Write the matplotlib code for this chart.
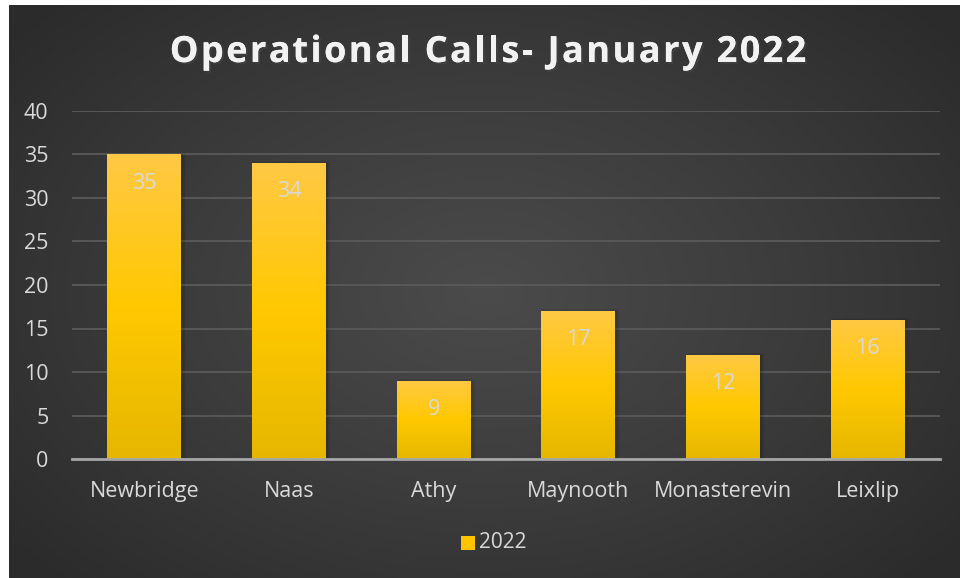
import numpy as np
import matplotlib
matplotlib.use("Agg")
import matplotlib.pyplot as plt
import matplotlib.patheffects as pe
from matplotlib.colors import LinearSegmentedColormap

towns = ["Newbridge", "Naas", "Athy", "Maynooth", "Monasterevin", "Leixlip"]
calls_2022 = [35, 34, 9, 17, 12, 16]
yticks = [0, 5, 10, 15, 20, 25, 30, 35, 40]
title = "Operational Calls- January 2022"
series_name = "2022"

plt.rcParams['font.family'] = ['Open Sans', 'DejaVu Sans']

fig = plt.figure(figsize=(9.6, 5.78), dpi=100)
fig.patch.set_facecolor("white")

# dark radial background (white strip on left/top like the screenshot)
bg = fig.add_axes([9 / 960, 0, 951 / 960, 573 / 578])
bg.set_axis_off()
yy, xx = np.mgrid[0:1:300j, 0:1:500j]
r = np.sqrt(((xx - 0.5) * 1.0) ** 2 + ((yy - 0.5) * 0.9) ** 2)
r = np.clip(r / 0.65, 0, 1)
bg_cmap = LinearSegmentedColormap.from_list("bg", ["#4b4b4b", "#3c3c3c", "#2b2b2b"])
bg.imshow(r, cmap=bg_cmap, aspect="auto", extent=[0, 1, 0, 1], vmin=0, vmax=1)
bg.set_xlim(0, 1)
bg.set_ylim(0, 1)

ax = fig.add_axes([72 / 960, 1 - 459 / 578, 868 / 960, 348 / 578])
ax.patch.set_alpha(0)

x = np.arange(len(towns))
bars = ax.bar(x, calls_2022, width=0.51, color="none", zorder=3)

bar_cmap = LinearSegmentedColormap.from_list(
    "bar", [(0, "#e6b700"), (0.5, "#ffc800"), (1, "#ffc945")])
grad = np.linspace(0, 1, 256).reshape(-1, 1)
for b in bars:
    x0, w, h = b.get_x(), b.get_width(), b.get_height()
    # soft shadow
    for k, a in enumerate([0.10, 0.07, 0.04]):
        ax.bar(x0 + w / 2 + 0.006 * (k + 1), h + 0.1 * k, width=w + 0.012 * (k + 1),
               color="black", alpha=a, zorder=2)
    im = ax.imshow(grad, cmap=bar_cmap, aspect="auto", origin="lower",
                   extent=[x0, x0 + w, 0, h], zorder=3)
    im.set_clip_path(b)
    ax.text(x0 + w / 2, h - 3.3, str(int(h)), ha="center", va="center",
            color="#d9d9d9", fontsize=15.5, zorder=4)

ax.set_xlim(-0.5, len(towns) - 0.5)
ax.set_ylim(0, 40)
ax.set_yticks(yticks)
ax.set_xticks(x)
ax.set_xticklabels(towns)
ax.tick_params(colors="#d9d9d9", labelsize=15.5, length=0)
ax.tick_params(axis="x", pad=16)
ax.tick_params(axis="y", pad=17)
ax.yaxis.grid(True, color="#5a5a5a", linewidth=1.3, zorder=0)
ax.set_axisbelow(True)
for s in ["top", "right", "left"]:
    ax.spines[s].set_visible(False)
ax.spines["bottom"].set_color("#a6a6a6")
ax.spines["bottom"].set_linewidth(2)
ax.spines["bottom"].set_zorder(5)

# letter-spaced title, drawn char by char
renderer = fig.canvas.get_renderer()
tkw = dict(fontsize=26, fontweight="bold", color="#f2f2f2", va="center", ha="left")
def text_width(s):
    t = fig.text(0, 0, s, **tkw)
    w = t.get_window_extent(renderer).width
    t.remove()
    return w
full_w = text_width(title)
spacing = 2.4
total = full_w + spacing * (len(title) - 1)
start = 488 - total / 2
ty = 1 - 53 / 578
for i, ch in enumerate(title):
    if ch == " ":
        continue
    px = start + (text_width(title[:i]) if i else 0) + spacing * i
    fig.text(px / 960, ty, ch,
             path_effects=[pe.withSimplePatchShadow(offset=(1.5, -1.5), alpha=0.45),
                           pe.Normal()], **tkw)

# legend
lx, ly = 468 / 960, 1 - 543 / 578
fig.patches.append(plt.Rectangle((lx - 7 / 960, ly - 7 / 578), 14 / 960, 14 / 578,
                                 transform=fig.transFigure, facecolor="#ffc400",
                                 edgecolor="none"))
fig.text(lx + 11 / 960, ly, series_name, ha="left", va="center",
         fontsize=15, color="#d9d9d9")

fig.savefig("out.png", dpi=100, facecolor=fig.get_facecolor())
